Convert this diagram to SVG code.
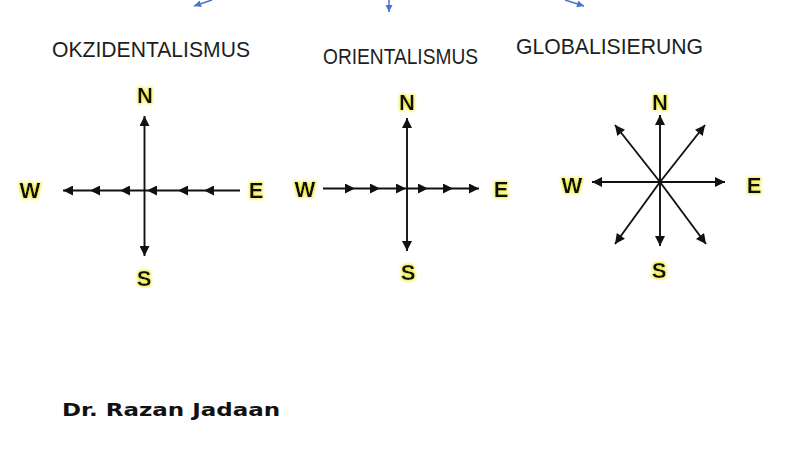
<svg xmlns="http://www.w3.org/2000/svg" width="800" height="450" viewBox="0 0 800 450">
<defs>
<style>
.title{font-family:"Liberation Sans",Arial,sans-serif;font-size:22.5px;fill:#1e1e1e}
.lbl{font-family:"Liberation Sans",Arial,sans-serif;font-weight:bold;font-size:22px;fill:#111;text-anchor:middle;filter:url(#glow)}
.ax{stroke:#111;stroke-width:1.9;fill:none}
.blue{stroke:#4a72d0;stroke-width:1.5;fill:none}
.author{font-family:"DejaVu Sans",Verdana,sans-serif;font-weight:bold;font-size:17px;fill:#111}
</style>
<marker id="ah" viewBox="0 0 10 10" refX="10" refY="5" markerWidth="11" markerHeight="10" markerUnits="userSpaceOnUse" orient="auto">
<path d="M0,0 L10,5 L0,10 Z" fill="#111"/>
</marker>
<marker id="bh" viewBox="0 0 10 10" refX="10" refY="5" markerWidth="8" markerHeight="7" markerUnits="userSpaceOnUse" orient="auto">
<path d="M0,0 L10,5 L0,10 Z" fill="#4a72d0"/>
</marker>
<filter id="glow" x="-50%" y="-50%" width="200%" height="200%">
<feMorphology in="SourceAlpha" operator="dilate" radius="1" result="d"/>
<feGaussianBlur in="d" stdDeviation="1.8" result="b"/>
<feFlood flood-color="#f0ec40" result="f"/>
<feComposite in="f" in2="b" operator="in" result="g"/>
<feMerge><feMergeNode in="g"/><feMergeNode in="SourceGraphic"/></feMerge>
</filter>
</defs>
<rect width="800" height="450" fill="#fff"/>

<g id="connectors">
<path class="blue" d="M212,0 L194,6" marker-end="url(#bh)"/>
<path class="blue" d="M389,0 L389,12" marker-end="url(#bh)"/>
<path class="blue" d="M565,0 L584,6" marker-end="url(#bh)"/>

<path class="ax" d="M144.5,190 L144.5,116" marker-end="url(#ah)"/>
<path class="ax" d="M144.5,190 L144.5,256" marker-end="url(#ah)"/>
<path class="ax" d="M240,190.5 L204,190.5 L178,190.5 L147,190.5 L120,190.5 L90,190.5 L63,190.5" marker-mid="url(#ah)" marker-end="url(#ah)"/>

<path class="ax" d="M407,189 L407,118" marker-end="url(#ah)"/>
<path class="ax" d="M407,189 L407,251" marker-end="url(#ah)"/>
<path class="ax" d="M323,188.5 L355,188.5 L380,188.5 L406,188.5 L428,188.5 L453,188.5 L479,188.5" marker-mid="url(#ah)" marker-end="url(#ah)"/>

<path class="ax" d="M660,182 L660,115" marker-end="url(#ah)"/>
<path class="ax" d="M660,182 L660,246" marker-end="url(#ah)"/>
<path class="ax" d="M660,182 L592,182" marker-end="url(#ah)"/>
<path class="ax" d="M660,182 L725,182" marker-end="url(#ah)"/>
<path class="ax" d="M660,182 L705,125" marker-end="url(#ah)"/>
<path class="ax" d="M660,182 L615,125" marker-end="url(#ah)"/>
<path class="ax" d="M660,182 L615,244" marker-end="url(#ah)"/>
<path class="ax" d="M660,182 L706,244" marker-end="url(#ah)"/>
</g>

<g id="okzidentalismus">
<text class="title" x="52" y="57" textLength="198" lengthAdjust="spacingAndGlyphs">OKZIDENTALISMUS</text>
<text class="lbl" x="145" y="103">N</text>
<text class="lbl" x="144" y="286">S</text>
<text class="lbl" x="30" y="198">W</text>
<text class="lbl" x="256" y="198">E</text>
</g>

<g id="orientalismus">
<text class="title" x="323" y="64" textLength="155" lengthAdjust="spacingAndGlyphs">ORIENTALISMUS</text>
<text class="lbl" x="407" y="110">N</text>
<text class="lbl" x="408" y="280">S</text>
<text class="lbl" x="305" y="197">W</text>
<text class="lbl" x="501" y="197">E</text>
</g>

<g id="globalisierung">
<text class="title" x="516" y="54" textLength="187" lengthAdjust="spacingAndGlyphs">GLOBALISIERUNG</text>
<text class="lbl" x="660" y="110">N</text>
<text class="lbl" x="659" y="278">S</text>
<text class="lbl" x="572" y="193">W</text>
<text class="lbl" x="754" y="193">E</text>
</g>

<g id="author">
<text class="author" x="62" y="416" textLength="218" lengthAdjust="spacingAndGlyphs">Dr. Razan Jadaan</text>
</g>
</svg>
